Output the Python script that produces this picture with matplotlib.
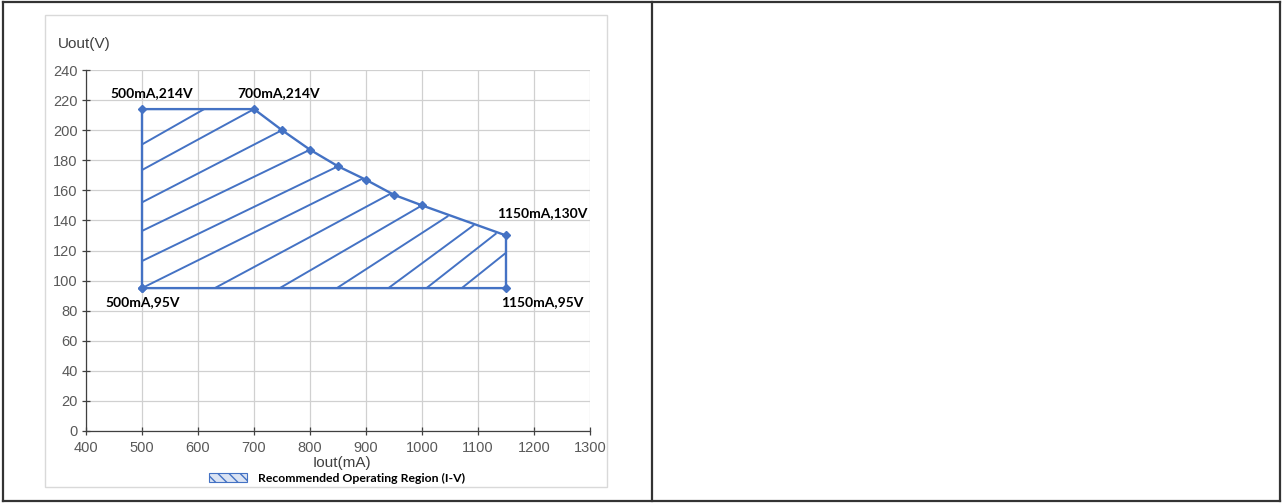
import matplotlib.pyplot as plt
from matplotlib.patches import Patch, Rectangle
from matplotlib.lines import Line2D

# operating region outline (current in mA, voltage in V)
outline_i = [500, 500, 700, 750, 800, 850, 900, 950, 1000, 1150, 1150, 500]
outline_u = [95, 214, 214, 200, 187, 176, 167, 157, 150, 130, 95, 95]

# hand-drawn hatch strokes inside the region: start / end points
hatch_i0 = [500, 500, 500, 500, 500, 500, 630, 746, 848, 940, 1008, 1071]
hatch_u0 = [190.5, 173.5, 152, 133, 113, 95, 95, 95, 95, 95, 95, 95]
hatch_i1 = [611, 700, 750, 800, 850, 895, 945, 1000, 1047, 1093, 1133, 1150]
hatch_u1 = [214, 214, 200, 187, 176, 168, 158, 150, 143, 137, 131.5, 118.5]

# labelled corners and where their text sits (offset in points)
corner_i = [500, 700, 500, 1150, 1150]
corner_u = [214, 214, 95, 130, 95]
corner_dx = [7, 18, 0.7, 26, 26]
corner_dy = [11.5, 11.5, -10, 15.8, -10]

x_ticks = list(range(400, 1301, 100))
y_ticks = list(range(0, 241, 20))

blue = '#4472C4'
W, H = 1282, 503

fig = plt.figure(figsize=(W / 100, H / 100), dpi=100)
fig.patch.set_facecolor('white')

# table borders
for xs, ys in [((3, 1280), (2, 2)), ((3, 1280), (501, 501)),
               ((3, 3), (2, 501)), ((1280, 1280), (2, 501)),
               ((652, 652), (2, 501))]:
    fig.add_artist(Line2D([x / W for x in xs], [1 - y / H for y in ys],
                          color='#333333', lw=1.6))

# chart area frame
fig.add_artist(Rectangle((45 / W, 1 - 487 / H), (607 - 45) / W, (487 - 15) / H,
                         fill=False, edgecolor='#d9d9d9', lw=1))

ax = fig.add_axes([86 / W, 1 - 431 / H, (590 - 86) / W, (431 - 70) / H])
ax.set_xlim(400, 1300)
ax.set_ylim(0, 240)
ax.set_xticks(x_ticks)
ax.set_yticks(y_ticks)
ax.grid(True, color='#d0d0d0', lw=0.9)
ax.set_axisbelow(True)
for s in ['top', 'right']:
    ax.spines[s].set_visible(False)
for s in ['left', 'bottom']:
    ax.spines[s].set_color('#404040')
    ax.spines[s].set_linewidth(0.9)
ax.tick_params(direction='inout', length=6, width=0.9, color='#404040',
               labelsize=10.5, labelcolor='#595959')
ax.tick_params(axis='y', pad=3)
ax.tick_params(axis='x', pad=4)
for lab in ax.get_xticklabels() + ax.get_yticklabels():
    lab.set_family('Liberation Sans')

for a, b, c, d in zip(hatch_i0, hatch_u0, hatch_i1, hatch_u1):
    ax.plot([a, c], [b, d], color=blue, lw=1.4, solid_capstyle='butt')

ax.plot(outline_i, outline_u, color=blue, lw=1.7, marker='D', markersize=3.8,
        clip_on=False)

for i, u, dx, dy in zip(corner_i, corner_u, corner_dx, corner_dy):
    ax.annotate(f'{i}mA,{u}V', (i, u), xytext=(dx, dy), textcoords='offset points',
                ha='center', va='center', fontsize=10, fontweight='bold',
                family='Lato', color='#000000')

ax.set_ylabel('Uout(V)', rotation=0, fontsize=11, color='#404040',
              family='Liberation Sans', ha='left', va='center')
ax.yaxis.set_label_coords(-0.056, 1.072)
ax.set_xlabel('Iout(mA)', fontsize=11, color='#404040',
              family='Liberation Sans', va='center')
ax.xaxis.set_label_coords(0.508, -0.089)

handle = Patch(facecolor='#dae3f3', edgecolor=blue, hatch='\\\\\\', lw=0.8,
               label='Recommended Operating Region (I-V)')
fig.legend(handles=[handle], loc='center', bbox_to_anchor=(337 / W, 1 - 478 / H),
           frameon=False, handlelength=3.1, handleheight=0.72, handletextpad=0.88,
           prop={'family': 'Lato', 'weight': 'bold', 'size': 8.8})

fig.savefig('out.png', dpi=100)
